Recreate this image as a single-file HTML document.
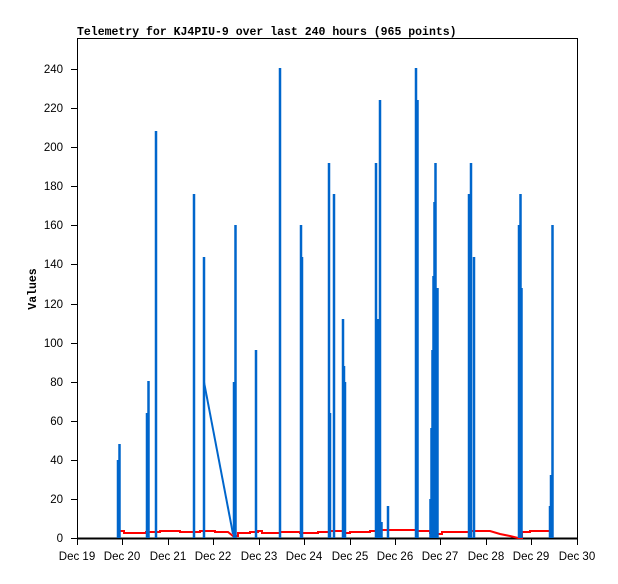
<!DOCTYPE html>
<html><head><style>body{margin:0;background:#fff}</style></head><body>
<svg width="618" height="579" xmlns="http://www.w3.org/2000/svg" font-family="Liberation Sans, sans-serif" font-size="11">
<rect width="618" height="579" fill="#fff"/>
<text x="77" y="35" font-family="Liberation Mono, monospace" font-weight="bold" font-size="11.5">Telemetry for KJ4PIU-9 over last 240 hours (965 points)</text>
<text transform="translate(36,289) rotate(-90)" text-anchor="middle" font-family="Liberation Mono, monospace" font-weight="bold" font-size="11.5">Values</text>
<rect x="77.5" y="38.5" width="500" height="500" fill="none" stroke="#000"/>
<g stroke="#000">
<path d="M71 538.5H77M71 499.5H77M71 460.5H77M71 421.5H77M71 382.5H77M71 343.5H77M71 304.5H77M71 264.5H77M71 225.5H77M71 186.5H77M71 147.5H77M71 108.5H77M71 69.5H77"/>
<path d="M77.5 538V545M122.5 538V545M168.5 538V545M213.5 538V545M259.5 538V545M304.5 538V545M350.5 538V545M395.5 538V545M440.5 538V545M486.5 538V545M531.5 538V545M577.5 538V545"/>
</g>
<line x1="77" y1="538.5" x2="578" y2="538.5" stroke="#000" stroke-width="2"/>
<g text-anchor="end" font-size="11.5">
<text x="63" y="542">0</text><text x="63" y="503">20</text><text x="63" y="464">40</text><text x="63" y="425">60</text><text x="63" y="386">80</text><text x="63" y="347">100</text><text x="63" y="308">120</text><text x="63" y="268">140</text><text x="63" y="229">160</text><text x="63" y="190">180</text><text x="63" y="151">200</text><text x="63" y="112">220</text><text x="63" y="73">240</text>
</g>
<g text-anchor="middle" font-size="11.5">
<text x="77" y="560">Dec 19</text><text x="122" y="560">Dec 20</text><text x="168" y="560">Dec 21</text><text x="213" y="560">Dec 22</text><text x="259" y="560">Dec 23</text><text x="304" y="560">Dec 24</text><text x="350" y="560">Dec 25</text><text x="395" y="560">Dec 26</text><text x="440" y="560">Dec 27</text><text x="486" y="560">Dec 28</text><text x="531" y="560">Dec 29</text><text x="577" y="560">Dec 30</text>
</g>
<path fill="none" stroke="#f00" stroke-width="2" d="M118 531H124V533H146V532H150V532H160V531H180V532H200V531H215V532H228L233 536H238V533H250V532H258V531H262V533H280V532H300V533H318V532H330V531H345V533H350V532H370V531H380V530H400V530H416V531H430V533H436V534H442V532H470V531H490L500 534L510 536L518 538H522V532H530V531H552"/>
<g fill="none" stroke="#0066cc" stroke-width="2.5">
<path d="M118 538V460M119.5 538V444M147 538V413M148.5 538V381M156 538V131M194 538V194M204 538V257M234 538V382M235.5 538V225M256 538V350M280 538V68M301 538V225M302 538V257M329 538V163M330 538V413M334 538V194M343 538V319M344 538V366M345 538V382M376 538V163M378.5 538V319M380 538V100M381.5 538V522M388 538V506M416 538V68M417.5 538V100M430.5 538V499M431.5 538V428M432.5 538V350M433.5 538V276M434.5 538V202M435.5 538V163M436.5 538V366M437.5 538V288M469 538V194M471 538V163M474 538V257M519 538V225M520.5 538V194M521.5 538V288M550 538V506M551 538V475M552.5 538V225"/>
<path stroke-width="2" d="M204 382L233 534"/>
</g>
</svg>
</body></html>
